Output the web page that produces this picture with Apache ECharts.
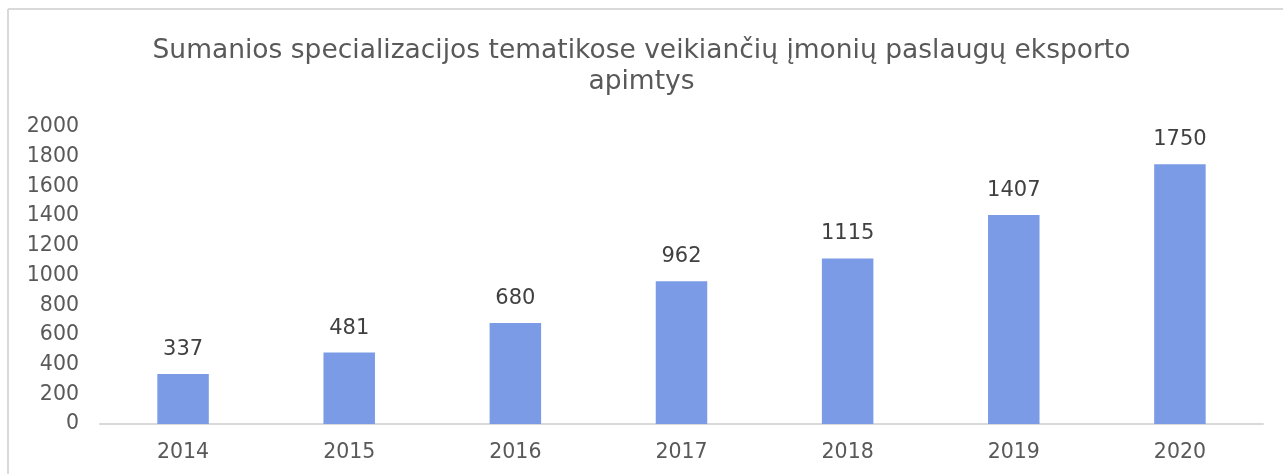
<!DOCTYPE html>
<html>
<head>
<meta charset="utf-8">
<script src="https://cdn.jsdelivr.net/npm/echarts@6/dist/echarts.min.js"></script>
<style>
  html, body { margin: 0; padding: 0; background: #fff; }
  #main { width: 1283px; height: 474px; }
</style>
</head>
<body>
<div id="main"></div>
<script>
// duomenys
const years = ['2014', '2015', '2016', '2017', '2018', '2019', '2020'];
const exportValues = [337, 481, 680, 962, 1115, 1407, 1750];
const titleText = 'Sumanios specializacijos tematikose veikiančių įmonių paslaugų eksporto\napimtys';

let chart = echarts.init(document.getElementById('main'));
const font = 'DejaVu Sans, Verdana, sans-serif';

chart.setOption({
    animation: false,
    textStyle: { fontFamily: font },
    title: {
        text: titleText,
        left: 'center',
        top: 31,
        textStyle: { color: '#595959', fontSize: 26.5, fontWeight: 'normal', lineHeight: 31, fontFamily: font }
    },
    // rėmelis: tik viršutinė ir kairė linijos matomos
    graphic: [{
        type: 'line',
        shape: { x1: 8, y1: 9, x2: 1283, y2: 9 },
        style: { stroke: '#d9d9d9', lineWidth: 2 },
        silent: true
    }, {
        type: 'line',
        shape: { x1: 8, y1: 9, x2: 8, y2: 474 },
        style: { stroke: '#d9d9d9', lineWidth: 2 },
        silent: true
    }],
    grid: { left: 100, right: 20, top: 127, bottom: 50 },
    xAxis: {
        type: 'category',
        data: years,
        axisLine: { lineStyle: { color: '#d9d9d9', width: 2 } },
        axisTick: { show: false },
        axisLabel: { color: '#595959', fontSize: 20.5, margin: 18, fontFamily: font }
    },
    yAxis: {
        type: 'value',
        min: 0,
        max: 2000,
        interval: 200,
        splitLine: { show: false },
        axisLine: { show: false },
        axisTick: { show: false },
        axisLabel: {
            color: '#595959', fontSize: 20.5, margin: 21, fontFamily: font,
            formatter: v => String(v)
        }
    },
    series: [{
        type: 'bar',
        data: exportValues,
        barWidth: '31%',
        itemStyle: { color: '#7b9be6' },
        label: {
            show: true,
            position: 'top',
            distance: 14,
            color: '#404040',
            fontSize: 21,
            fontFamily: font
        }
    }]
});
</script>
</body>
</html>
